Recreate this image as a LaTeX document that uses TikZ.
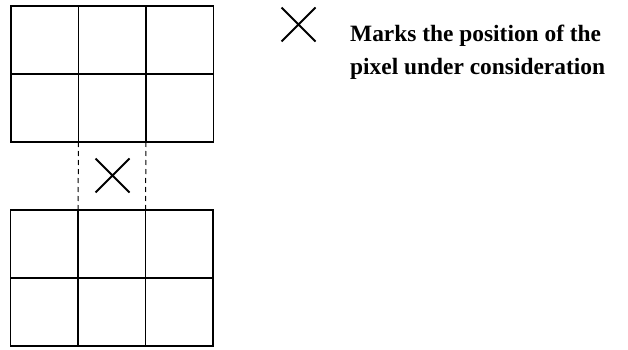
\documentclass[tikz,border=0pt]{standalone}
\usepackage{fontspec}
\setmainfont{Liberation Serif}
\usetikzlibrary{positioning,shapes.misc}
\definecolor{ink}{HTML}{000000}
\definecolor{paper}{HTML}{FFFFFF}
\tikzset{
  cell/.style={
    rectangle,
    draw=ink,
    line width=1.3pt,
    fill=paper,
    minimum width=67.5pt,
    minimum height=68pt,
    inner sep=0pt,
    outer sep=0pt
  },
  crossmark/.style={
    cross out,
    draw=ink,
    line width=1.8pt,
    minimum size=34pt,
    inner sep=0pt,
    outer sep=0pt
  },
  gap/.style={
    draw=ink,
    line width=1pt,
    dash pattern=on 5pt off 4pt
  },
  legendtext/.style={
    font=\fontsize{23.4}{33}\selectfont\bfseries,
    text=ink,
    align=left,
    inner sep=0pt
  }
}

\begin{document}
\begin{tikzpicture}[x=1pt, y=-1pt]
  \useasboundingbox (0,0) rectangle (628,350);

  %====================================================================
  % Upper 3x2 block of pixels
  %====================================================================
  \node[cell] (up11) at ( 44.75, 40) {};
  \node[cell, right=0pt of up11] (up12) {};
  \node[cell, right=0pt of up12] (up13) {};
  \node[cell, below=0pt of up11] (up21) {};
  \node[cell, right=0pt of up21] (up22) {};
  \node[cell, right=0pt of up22] (up23) {};

  %====================================================================
  % Lower 3x2 block of pixels
  %====================================================================
  \node[cell] (lo11) at ( 44.25, 244) {};
  \node[cell, right=0pt of lo11] (lo12) {};
  \node[cell, right=0pt of lo12] (lo13) {};
  \node[cell, below=0pt of lo11] (lo21) {};
  \node[cell, right=0pt of lo21] (lo22) {};
  \node[cell, right=0pt of lo22] (lo23) {};

  %====================================================================
  % Missing row between the two blocks, with the pixel in question
  %====================================================================
  \draw[gap] (up22.south west) -- (lo12.north west);
  \draw[gap] (up22.south east) -- (lo12.north east);
  \node[crossmark] (pixel) at (112.5, 175.5) {};

  %====================================================================
  % Legend
  %====================================================================
  \node[crossmark] (keymark) at (298.5, 24.5) {};
  \node[legendtext, anchor=base west] (keytext) at (350, 75)
    {Marks the position of the\\pixel under consideration};

\end{tikzpicture}
\end{document}
